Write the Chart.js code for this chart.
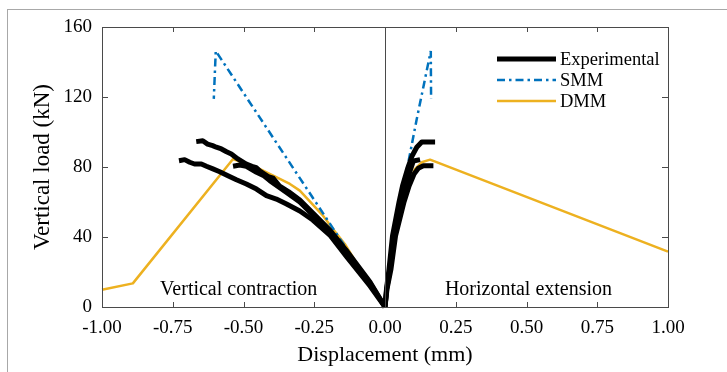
<!DOCTYPE html>
<html>
<head>
<meta charset="utf-8">
<script src="https://cdn.jsdelivr.net/npm/chart.js@4.4.1/dist/chart.umd.min.js"></script>
<style>
  html, body { margin: 0; padding: 0; background: #fff; }
  #wrap { position: relative; width: 727px; height: 372px; overflow: hidden; }
  #frame { position: absolute; left: 7px; top: 9px; width: 720px; height: 363px;
           border-top: 1px solid #a8a8a8; border-left: 1px solid #a8a8a8; box-sizing: border-box; }
  #c { position: absolute; left: 0; top: 0; }
</style>
</head>
<body>
<div id="wrap"><div id="frame"></div><canvas id="c" width="727" height="372"></canvas></div>
<script>
// ---------------- DATA ----------------
const xTickValues = [-1.00, -0.75, -0.50, -0.25, 0.00, 0.25, 0.50, 0.75, 1.00];
const yTickValues = [0, 40, 80, 120, 160];
const seriesNames = ['Experimental', 'SMM', 'DMM'];
const annotations = ['Vertical contraction', 'Horizontal extension'];

// Experimental specimens (vertical contraction branch, x < 0)
const expA_left = [[-0.667,94.5],[-0.644,95.0],[-0.627,93.1],[-0.609,92.2],[-0.596,91.3],[-0.578,90.3],[-0.560,88.7],[-0.543,87.4],[-0.520,84.6],[-0.490,81.7],[-0.470,80.4],[-0.455,79.6],[-0.442,77.7],[-0.410,74.3],[-0.395,73.6],[-0.372,69.0],[-0.340,65.8],[-0.301,61.1],[-0.255,53.7],[-0.195,44.0],[-0.135,32.0],[-0.053,14.3],[0,0]];
const expB_left = [[-0.728,83.6],[-0.708,84.2],[-0.690,82.7],[-0.673,81.7],[-0.649,81.7],[-0.631,80.4],[-0.608,78.9],[-0.584,77.3],[-0.555,75.0],[-0.525,72.7],[-0.490,70.3],[-0.454,67.4],[-0.419,63.6],[-0.384,61.7],[-0.348,58.9],[-0.301,54.9],[-0.255,49.7],[-0.195,41.1],[-0.135,28.6],[-0.053,12.0],[0,0]];
const expC_left = [[-0.537,80.4],[-0.513,81.1],[-0.490,80.4],[-0.454,77.0],[-0.430,75.2],[-0.407,72.2],[-0.348,65.5],[-0.301,60.0],[-0.255,52.6],[-0.195,42.9],[-0.135,30.9],[-0.053,13.7],[0,0]];
// Experimental specimens (horizontal extension branch, x > 0)
const expA_right = [[0,0],[0.0053,10.3],[0.0142,21.7],[0.0265,40.6],[0.0496,60.0],[0.0619,69.1],[0.0796,78.9],[0.0956,86.3],[0.1122,91.3],[0.1299,94.3],[0.1770,94.3]];
const expB_right = [[0,0],[0.0071,10.3],[0.0212,21.7],[0.0372,40.6],[0.0672,60.0],[0.0850,69.1],[0.1027,76.0],[0.1179,79.3],[0.1356,80.7],[0.1710,80.7]];
const expC_right = [[0,0],[0.0060,10.3],[0.0177,21.7],[0.0319,40.6],[0.0584,60.0],[0.0726,69.1],[0.0885,77.7],[0.1002,83.4],[0.1239,84.2]];

// SMM model
const smm_left  = [[0,0],[-0.598,146.3],[-0.605,118.9]];
const smm_right = [[0,0],[0.015,25],[0.040,50],[0.0825,82.7],[0.1122,107.4],[0.1618,146.3],[0.1628,118.9]];

// DMM model
const dmm_left  = [[-1.0,9.9],[-0.891,13.5],[-0.537,84.6],[-0.454,79.8],[-0.336,70.3],[-0.301,66.5],[-0.219,52.2],[-0.184,44.6],[-0.142,36.0],[-0.070,17.0],[0,0]];
const dmm_right = [[0,0],[0.020,30],[0.050,58],[0.0825,70.3],[0.1062,78.9],[0.1299,82.7],[0.1593,84.2],[1.0,31.6]];

// ---------------- STYLE ----------------
const BLACK = '#000000', BLUE = '#0072BD', ORANGE = '#EDB120', AXIS = '#4a4a4a';
const SERIF = "'Liberation Serif', 'Times New Roman', serif";
const toPts = arr => arr.map(p => ({x: p[0], y: p[1]}));
const expStyle = {borderColor: BLACK, borderWidth: 5, borderJoinStyle: 'round', borderCapStyle: 'butt'};
const smmStyle = {borderColor: BLUE, borderWidth: 2.5, borderDash: [8, 4, 2.5, 4], borderJoinStyle: 'bevel'};
const dmmStyle = {borderColor: ORANGE, borderWidth: 2.5, borderJoinStyle: 'round'};
const mk = (label, arr, style) => Object.assign({label, data: toPts(arr), showLine: true, pointRadius: 0, tension: 0, fill: false, clip: 4}, style);

const datasets = [
  mk(seriesNames[0], expA_left, expStyle), mk(seriesNames[0], expB_left, expStyle), mk(seriesNames[0], expC_left, expStyle),
  mk(seriesNames[0], expA_right, expStyle), mk(seriesNames[0], expB_right, expStyle), mk(seriesNames[0], expC_right, expStyle),
  mk(seriesNames[1], smm_left, smmStyle), mk(seriesNames[1], smm_right, smmStyle),
  mk(seriesNames[2], dmm_left, dmmStyle), mk(seriesNames[2], dmm_right, dmmStyle)
];

// box, zero line, inward ticks, annotations, legend
const decor = {
  id: 'decor',
  afterDatasetsDraw(chart) {
    const {ctx, chartArea: a, scales: {x, y}} = chart;
    ctx.save();
    ctx.strokeStyle = AXIS; ctx.lineWidth = 1;
    ctx.strokeRect(Math.round(a.left) + 0.5, Math.round(a.top) + 0.5, Math.round(a.right - a.left), Math.round(a.bottom - a.top));
    const x0 = Math.round(x.getPixelForValue(0)) + 0.5;
    ctx.beginPath(); ctx.moveTo(x0, a.top); ctx.lineTo(x0, a.bottom); ctx.stroke();
    ctx.beginPath();
    xTickValues.forEach(v => {
      const px = Math.round(x.getPixelForValue(v)) + 0.5;
      ctx.moveTo(px, a.bottom); ctx.lineTo(px, a.bottom - 5);
      ctx.moveTo(px, a.top); ctx.lineTo(px, a.top + 5);
    });
    yTickValues.forEach(v => {
      const py = Math.round(y.getPixelForValue(v)) + 0.5;
      ctx.moveTo(a.left, py); ctx.lineTo(a.left + 6, py);
      ctx.moveTo(a.right, py); ctx.lineTo(a.right - 6, py);
    });
    ctx.stroke();
    // annotations
    ctx.fillStyle = '#000';
    ctx.font = '20px ' + SERIF;
    ctx.textAlign = 'center'; ctx.textBaseline = 'middle';
    ctx.fillText(annotations[0], x.getPixelForValue(-0.517), y.getPixelForValue(10));
    ctx.fillText(annotations[1], x.getPixelForValue(0.507), y.getPixelForValue(10));
    // legend
    const styles = [expStyle, smmStyle, dmmStyle];
    const lx0 = a.right - 171, lx1 = a.right - 112, tx = a.right - 108;
    const rows = [a.top + 32, a.top + 53, a.top + 74];
    ctx.font = '18.5px ' + SERIF; ctx.textAlign = 'left';
    styles.forEach((s, i) => {
      ctx.beginPath();
      ctx.strokeStyle = s.borderColor; ctx.lineWidth = s.borderWidth;
      ctx.setLineDash(s.borderDash || []);
      ctx.moveTo(lx0, rows[i]); ctx.lineTo(lx1, rows[i]); ctx.stroke();
      ctx.setLineDash([]);
      ctx.fillText(seriesNames[i], tx, rows[i] + 1);
    });
    ctx.restore();
  }
};

new Chart(document.getElementById('c'), {
  type: 'scatter',
  data: {datasets},
  options: {
    responsive: false, animation: false,
    layout: {padding: {top: 27, right: 59, left: 0, bottom: 0}},
    plugins: {legend: {display: false}, tooltip: {enabled: false}},
    scales: {
      x: {
        type: 'linear', min: -1, max: 1,
        afterFit: s => { s.height = 65; },
        afterBuildTicks: s => { s.ticks = xTickValues.map(v => ({value: v})); },
        grid: {display: false, drawTicks: false}, border: {display: false},
        ticks: {padding: 10, color: '#000', font: {family: SERIF, size: 19}, callback: v => v.toFixed(2), maxRotation: 0, autoSkip: false},
        title: {display: true, text: 'Displacement (mm)', color: '#000', font: {family: SERIF, size: 22}, padding: {top: 0, bottom: 4}}
      },
      y: {
        type: 'linear', min: 0, max: 160,
        afterFit: s => { s.width = 102; },
        afterBuildTicks: s => { s.ticks = yTickValues.map(v => ({value: v})); },
        grid: {display: false, drawTicks: false}, border: {display: false},
        ticks: {padding: 10, color: '#000', font: {family: SERIF, size: 19}, callback: v => String(v), autoSkip: false},
        title: {display: true, text: 'Vertical load (kN)', color: '#000', font: {family: SERIF, size: 23}, padding: {top: 29, bottom: 0}}
      }
    }
  },
  plugins: [decor]
});
</script>
</body>
</html>
